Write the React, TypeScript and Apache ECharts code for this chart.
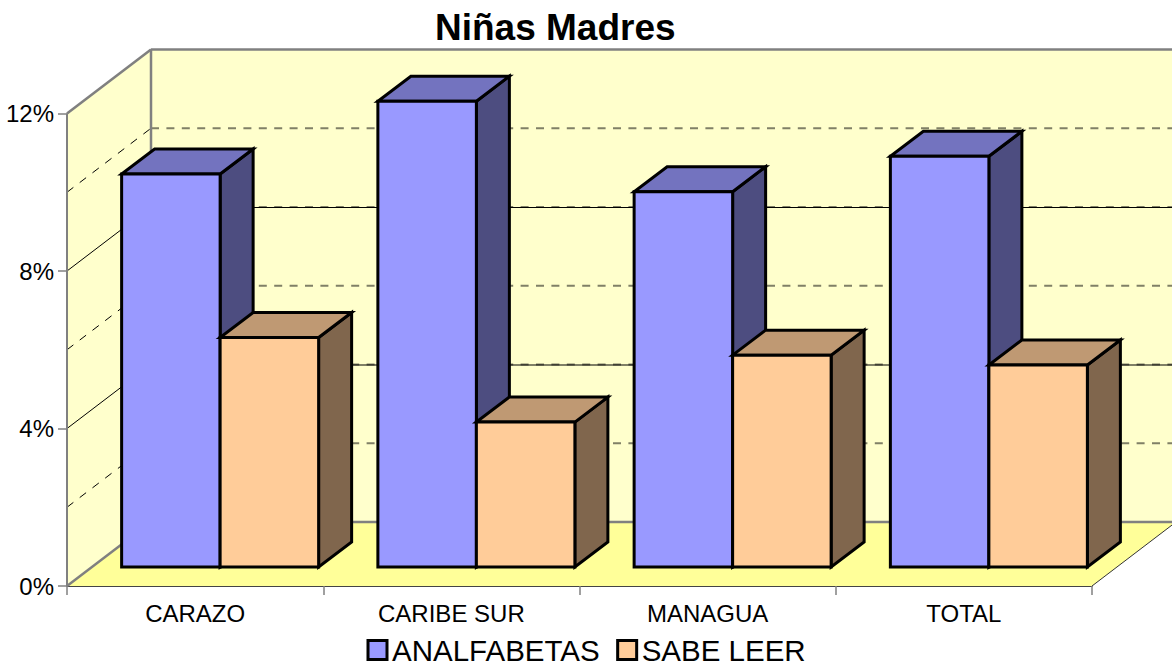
import React, { useEffect, useRef } from "react";
import * as echarts from "echarts";

const categories = ["CARAZO", "CARIBE SUR", "MANAGUA", "TOTAL"];
const analfabetas = [9.98, 11.83, 9.53, 10.43];
const sabeLeer = [5.83, 3.68, 5.38, 5.13];
const solidGrid = [4, 8];
const dashedGrid = [2, 4, 6, 8, 10];
const leftDashedGrid = [2, 6, 10];
const yTicks = { min: 0, max: 12, interval: 4 };

const FONT = "Liberation Sans";
const WALL_DX = 84;
const WALL_DY = -64;
const BAR_OFF_X = 25;
const BAR_OFF_Y = -19;
const BAR_DX = 33;
const BAR_DY = -25;
const BAR_W = 98.5;

function wallsItem(_params: any, api: any) {
  const band = api.size([1, 0])[0];
  const first = api.coord([0, 0]);
  const last = api.coord([categories.length - 1, 0]);
  const xl = first[0] - band / 2;
  const xr = last[0] + band / 2;
  const y0 = first[1];
  const yt = api.coord([0, yTicks.max])[1];
  const gray = "#808080";
  const children: any[] = [
    { type: "polygon", shape: { points: [[xl, y0], [xl + WALL_DX, y0 + WALL_DY], [xl + WALL_DX, yt + WALL_DY], [xl, yt]] }, style: { fill: "#FFFFCC" } },
    { type: "polygon", shape: { points: [[xl + WALL_DX, y0 + WALL_DY], [xr + WALL_DX, y0 + WALL_DY], [xr + WALL_DX, yt + WALL_DY], [xl + WALL_DX, yt + WALL_DY]] }, style: { fill: "#FFFFCC" } },
    { type: "polygon", shape: { points: [[xl, y0], [xr, y0], [xr + WALL_DX, y0 + WALL_DY], [xl + WALL_DX, y0 + WALL_DY]] }, style: { fill: "#FFFF99" } },
  ];
  const thin = { stroke: "#000000", lineWidth: 1 };
  dashedGrid.forEach((v) => {
    const y = api.coord([0, v])[1] + WALL_DY;
    children.push({ type: "line", shape: { x1: xl + WALL_DX, y1: y, x2: xr + WALL_DX, y2: y }, style: { stroke: "#808066", lineWidth: 2, lineDash: [8, 7.4] } });
  });
  solidGrid.forEach((v) => {
    const yf = api.coord([0, v])[1];
    const y = yf + WALL_DY;
    children.push({ type: "line", shape: { x1: xl, y1: yf, x2: xl + WALL_DX, y2: y }, style: thin });
    children.push({ type: "line", shape: { x1: xl + WALL_DX, y1: y + 0.5, x2: xr + WALL_DX, y2: y + 0.5 }, style: thin });
  });
  leftDashedGrid.forEach((v) => {
    const yf = api.coord([0, v])[1];
    children.push({ type: "line", shape: { x1: xl, y1: yf, x2: xl + WALL_DX, y2: yf + WALL_DY }, style: { ...thin, lineDash: [8, 8] } });
  });
  const edge = (x1: number, y1: number, x2: number, y2: number, lineWidth: number, stroke = gray) =>
    children.push({ type: "line", shape: { x1, y1, x2, y2 }, style: { stroke, lineWidth } });
  edge(xl, yt, xl + WALL_DX, yt + WALL_DY, 2.5);
  edge(xl + WALL_DX, yt + WALL_DY, xr + WALL_DX, yt + WALL_DY, 2.5);
  edge(xl + WALL_DX, yt + WALL_DY, xl + WALL_DX, y0 + WALL_DY, 2.5);
  edge(xl + WALL_DX, y0 + WALL_DY, xr + WALL_DX, y0 + WALL_DY, 2.5);
  edge(xl, y0, xl + WALL_DX, y0 + WALL_DY, 2.5);
  edge(xl, yt, xl, y0, 2);
  edge(xr, y0, xr + WALL_DX, y0 + WALL_DY, 1, "#333333");
  return { type: "group", children };
}

function barItem(side: -1 | 1, front: string, top: string, right: string) {
  return (_params: any, api: any) => {
    const base = api.coord([api.value(0), 0]);
    const h = api.size([0, api.value(1)])[1];
    const cx = base[0] + BAR_OFF_X;
    const x0 = side < 0 ? cx - BAR_W : cx;
    const x1 = x0 + BAR_W;
    const yb = base[1] + BAR_OFF_Y;
    const yt = yb - h;
    const stroke = { stroke: "#000000", lineWidth: 3, lineJoin: "miter" };
    return {
      type: "group",
      children: [
        { type: "polygon", shape: { points: [[x1, yt], [x1 + BAR_DX, yt + BAR_DY], [x1 + BAR_DX, yb + BAR_DY], [x1, yb]] }, style: { fill: right, ...stroke } },
        { type: "polygon", shape: { points: [[x0, yt], [x1, yt], [x1 + BAR_DX, yt + BAR_DY], [x0 + BAR_DX, yt + BAR_DY]] }, style: { fill: top, ...stroke } },
        { type: "polygon", shape: { points: [[x0, yb], [x1, yb], [x1, yt], [x0, yt]] }, style: { fill: front, ...stroke } },
      ],
    };
  };
}

export default function App() {
  const ref = useRef<HTMLDivElement>(null);
  useEffect(() => {
    document.body.style.margin = "0";
    const chart = echarts.init(ref.current!, undefined, { renderer: "svg" });
    chart.setOption({
      animation: false,
      backgroundColor: "#FFFFFF",
      title: {
        text: "Niñas Madres",
        left: 435,
        top: 9,
        padding: 0,
        textStyle: { fontFamily: FONT, fontSize: 37, fontWeight: "bold", color: "#000000" },
      },
      grid: { left: 67, right: 80, top: 113.5, bottom: 79 },
      legend: {
        left: 366.5,
        top: 635,
        padding: 0,
        itemWidth: 19,
        itemHeight: 19,
        itemGap: 16.5,
        icon: "rect",
        selectedMode: false,
        data: ["ANALFABETAS", "SABE LEER"],
        textStyle: { fontFamily: FONT, fontSize: 29.5, color: "#000000", padding: 0 },
        itemStyle: { borderColor: "#000000", borderWidth: 3 },
      },
      xAxis: {
        type: "category",
        data: categories,
        boundaryGap: true,
        axisLine: { show: true, lineStyle: { color: "#444444", width: 1 } },
        axisTick: { show: true, length: 9, alignWithLabel: false, lineStyle: { color: "#808080", width: 1.5 } },
        axisLabel: { fontFamily: FONT, fontSize: 24, color: "#000000", margin: 15 },
        splitLine: { show: false },
      },
      yAxis: {
        type: "value",
        min: yTicks.min,
        max: yTicks.max,
        interval: yTicks.interval,
        axisLine: { show: false },
        axisTick: { show: true, length: 9, lineStyle: { color: "#808080", width: 1.5 } },
        axisLabel: { fontFamily: FONT, fontSize: 24, color: "#000000", margin: 13, formatter: "{value}%" },
        splitLine: { show: false },
      },
      series: [
        { type: "custom", name: "walls", silent: true, clip: false, z: 1, data: [[0, 0]], renderItem: wallsItem },
        {
          type: "custom", name: "ANALFABETAS", clip: false, z: 2, itemStyle: { color: "#9999FF" },
          encode: { x: 0, y: 1 },
          data: analfabetas.map((v, i) => [i, v]),
          renderItem: barItem(-1, "#9999FF", "#7373BF", "#4D4D80"),
        },
        {
          type: "custom", name: "SABE LEER", clip: false, z: 3, itemStyle: { color: "#FFCC99" },
          encode: { x: 0, y: 1 },
          data: sabeLeer.map((v, i) => [i, v]),
          renderItem: barItem(1, "#FFCC99", "#BF9973", "#80664D"),
        },
      ],
    });
    return () => chart.dispose();
  }, []);
  return <div ref={ref} style={{ width: 1172, height: 665 }} />;
}
